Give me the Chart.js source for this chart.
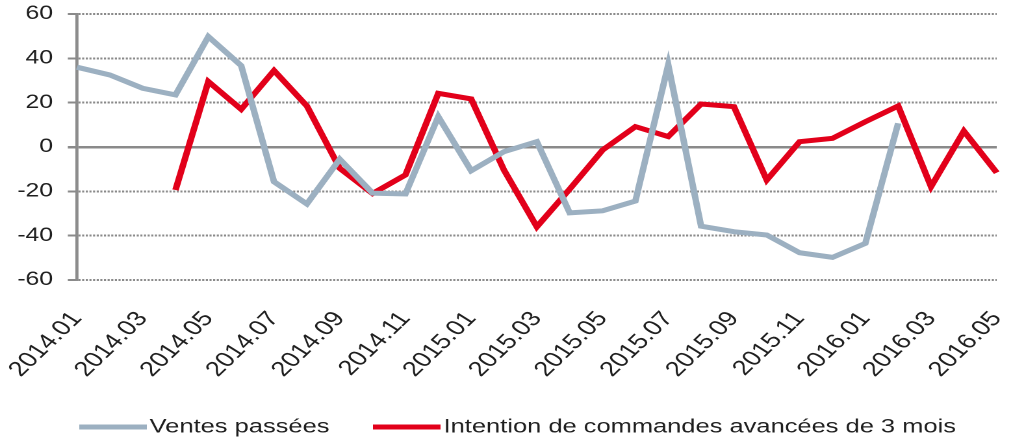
<!DOCTYPE html>
<html>
<head>
<meta charset="utf-8">
<script src="https://cdn.jsdelivr.net/npm/chart.js@4/dist/chart.umd.min.js"></script>
<style>
  html, body { margin: 0; padding: 0; background: #ffffff; overflow: hidden; }
  #wrap { position: absolute; left: 0; top: 0; width: 788px; height: 448px;
          transform: scaleX(1.2995); transform-origin: 0 0; }
</style>
</head>
<body>
<div id="wrap"><canvas id="c"></canvas></div>
<script>
const categories = ['2014.01','2014.02','2014.03','2014.04','2014.05','2014.06','2014.07','2014.08','2014.09','2014.10','2014.11','2014.12',
                    '2015.01','2015.02','2015.03','2015.04','2015.05','2015.06','2015.07','2015.08','2015.09','2015.10','2015.11','2015.12',
                    '2016.01','2016.02','2016.03','2016.04','2016.05'];
const ventesPassees = [36, 32.5, 26.5, 23.5, 49.8, 36.7, -15.7, -25.7, -5.5, -20.8, -21.2, 13.7, -10.7, -2.1, 2.4, -29.7,
                       -28.8, -24.4, 37, -35.7, -38.2, -39.7, -47.7, -49.8, -43.5, 10.7, null, null, null];
const intentionCommandes = [null, null, null, -19.4, 29.5, 17, 34.5, 18.5, -9.6, -21, -12.6, 24.2, 21.7, -10.4, -36, -19,
                            -1.4, 9.2, 4.7, 19.4, 18.2, -14.9, 2.4, 3.9, 11.4, 18.5, -17.9, 7.2, -11.6];
const seriesNames = ['Ventes passées', 'Intention de commandes avancées de 3 mois'];
const yTicks = [-60, -40, -20, 0, 20, 40, 60];

const GRAY = '#9cb0c1';
const RED = '#e2001a';
const TEXT = '#1f1f1f';
const GRID = '#8a8a8a';
const FONT = "'Liberation Sans', Arial, Helvetica, sans-serif";

function legendSwatch(color) {
  const c = document.createElement('canvas');
  c.width = 52; c.height = 5;
  const g = c.getContext('2d');
  g.fillStyle = color;
  g.fillRect(0, 0, c.width, c.height);
  return c;
}

const legendShift = {
  id: 'legendShift',
  afterLayout(chart) {
    if (chart.legend) { chart.legend.left += 8; chart.legend.right += 8; }
  }
};

new Chart(document.getElementById('c'), {
  type: 'line',
  data: {
    labels: categories,
    datasets: [
      { label: seriesNames[0], data: ventesPassees, borderColor: GRAY, backgroundColor: GRAY,
        borderWidth: 5, pointRadius: 0, tension: 0, spanGaps: false },
      { label: seriesNames[1], data: intentionCommandes, borderColor: RED, backgroundColor: RED,
        borderWidth: 5, pointRadius: 0, tension: 0, spanGaps: false }
    ]
  },
  plugins: [legendShift],
  options: {
    responsive: true,
    maintainAspectRatio: false,
    animation: false,
    devicePixelRatio: 2,
    layout: { padding: { left: 0, right: 0, top: 0, bottom: 1 } },
    plugins: {
      tooltip: { enabled: false },
      legend: {
        position: 'bottom',
        labels: {
          color: TEXT,
          font: { family: FONT, size: 19.6 },
          usePointStyle: true,
          pointStyleWidth: 37,
          boxHeight: 5,
          padding: 41,
          generateLabels(chart) {
            return chart.data.datasets.map((ds, i) => ({
              text: ds.label, fillStyle: ds.borderColor, strokeStyle: ds.borderColor,
              lineWidth: 0, hidden: false, datasetIndex: i, fontColor: TEXT,
              pointStyle: legendSwatch(ds.borderColor)
            }));
          }
        }
      }
    },
    scales: {
      x: {
        offset: false,
        grid: { display: false, drawTicks: false },
        border: { display: false },
        afterFit(axis) { axis.height = 96.4; axis.paddingLeft = 0; axis.paddingRight = 21; },
        ticks: {
          autoSkip: false,
          minRotation: 51,
          maxRotation: 51,
          padding: 27,
          color: TEXT,
          font: { family: FONT, size: 21 },
          callback: (v, i) => (i % 2 === 0 ? categories[i] : '')
        }
      },
      y: {
        min: yTicks[0],
        max: yTicks[yTicks.length - 1],
        afterBuildTicks: (axis) => { axis.ticks = yTicks.map(v => ({ value: v })); },
        afterFit(axis) { axis.width = 59.2; axis.paddingTop = 14; axis.paddingBottom = 0; },
        grid: {
          color: GRID,
          lineWidth: (ctx) => (ctx.tick && ctx.tick.value === 0 ? 2.5 : 2),
          drawTicks: true,
          tickLength: 7
        },
        border: {
          display: true,
          color: '#8c8c8c',
          width: 2.4,
          dash: (ctx) => (ctx.type === 'tick' && ctx.tick && ctx.tick.value !== 0 ? [1.6, 1.2] : [])
        },
        ticks: {
          padding: 11.4,
          color: TEXT,
          font: { family: FONT, size: 19 }
        }
      }
    }
  }
});
</script>
</body>
</html>
